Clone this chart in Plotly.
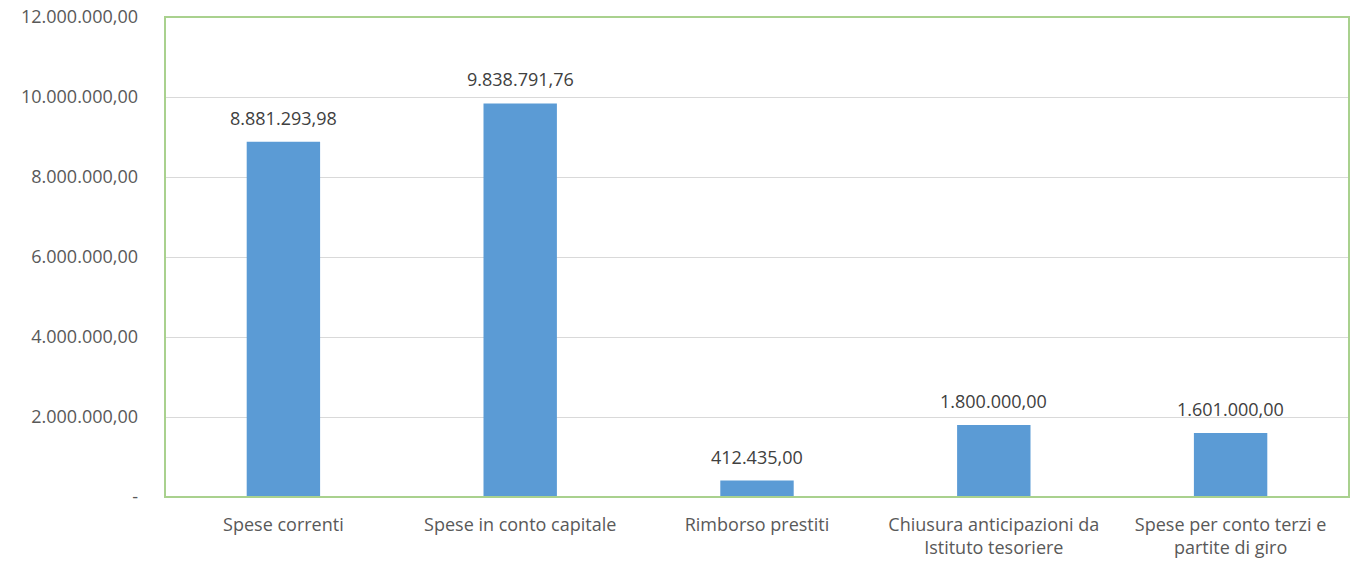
import plotly.graph_objects as go

categories = ["Spese correnti", "Spese in conto capitale", "Rimborso prestiti",
              "Chiusura anticipazioni da<br>Istituto tesoriere",
              "Spese per conto terzi e<br>partite di giro"]
values = [8881293.98, 9838791.76, 412435.00, 1800000.00, 1601000.00]
labels = ["8.881.293,98", "9.838.791,76", "412.435,00", "1.800.000,00", "1.601.000,00"]
tick_vals = [0, 2000000, 4000000, 6000000, 8000000, 10000000, 12000000]
tick_text = ["-", "2.000.000,00", "4.000.000,00", "6.000.000,00", "8.000.000,00",
             "10.000.000,00", "12.000.000,00"]

FONT = "'Open Sans', sans-serif"
FS = 18

fig = go.Figure(go.Bar(
    x=categories, y=values,
    marker=dict(color="#5B9BD5", line=dict(width=0)),
))
for c, v, t in zip(categories, values, labels):
    fig.add_annotation(x=c, y=v, text=t, showarrow=False, yanchor="bottom",
                       yshift=10, font=dict(color="#404040", size=FS, family=FONT))

fig.update_layout(
    width=1350, height=564,
    margin=dict(l=165, r=1, t=17, b=67, autoexpand=False),
    paper_bgcolor="white", plot_bgcolor="white",
    bargap=0.69, showlegend=False,
    font=dict(family=FONT, color="#595959", size=FS),
)
fig.update_xaxes(showgrid=False, showline=False, ticks="", automargin=False,
                 ticklabelstandoff=15, tickfont=dict(size=FS, color="#595959"))
fig.update_yaxes(range=[0, 12000000], tickvals=tick_vals, ticktext=tick_text,
                 showgrid=True, gridcolor="#D9D9D9", gridwidth=1, zeroline=False,
                 ticks="", automargin=False, ticklabelstandoff=26,
                 ticklabeloverflow="allow",
                 tickfont=dict(size=FS, color="#595959"))
fig.add_shape(type="rect", xref="paper", yref="paper", x0=0, x1=1, y0=0, y1=1,
              line=dict(color="#A9D18E", width=2), layer="above")

fig.write_html("out.html", config={"displayModeBar": False},
               post_script="document.body.style.margin='0';document.body.style.overflow='hidden';")
